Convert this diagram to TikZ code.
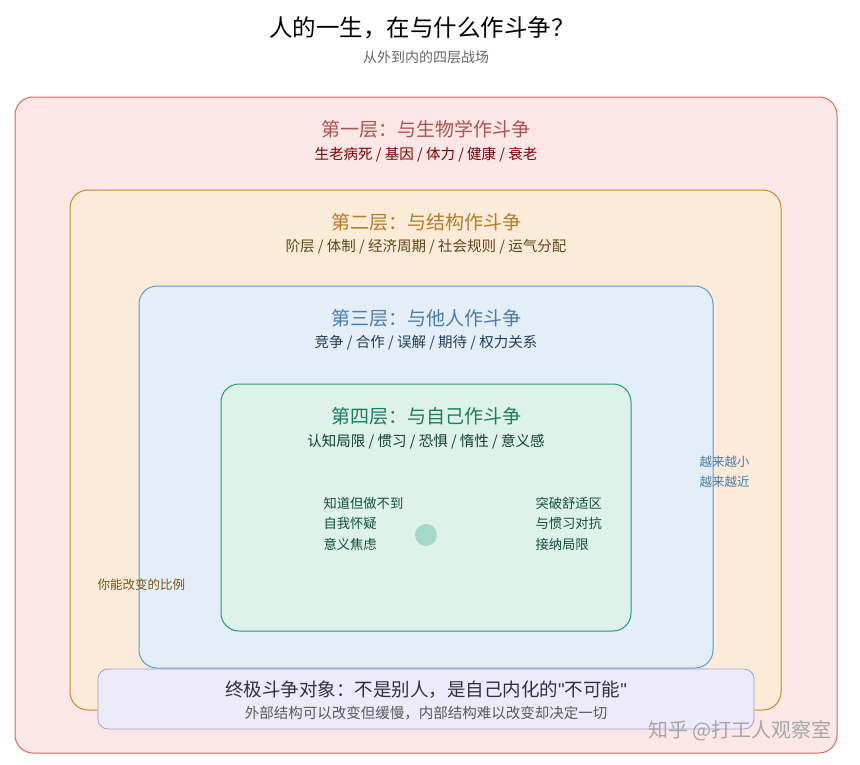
\documentclass[tikz,border=0pt]{standalone}
\usepackage{fontspec}
\setmainfont{Noto Sans CJK SC}
\newfontfamily\latq{Liberation Sans}
\begin{document}
\begin{tikzpicture}[x=1pt,y=-1pt,
 box/.style={rounded corners=18pt,line width=1pt},
 ttl/.style={font=\fontsize{19}{22}\selectfont},
 sub/.style={font=\fontsize{14.5}{17}\selectfont},
 sm/.style={font=\fontsize{13.3}{16}\selectfont,anchor=west}]
\definecolor{r1}{HTML}{FBE7E6}\definecolor{r1b}{HTML}{D9675F}
\definecolor{o1}{HTML}{FBEBD8}\definecolor{o1b}{HTML}{C98A2A}
\definecolor{b1}{HTML}{E3EEF9}\definecolor{b1b}{HTML}{5B9BD5}
\definecolor{g1}{HTML}{DFF2EA}\definecolor{g1b}{HTML}{1E9E78}
\definecolor{p1}{HTML}{EDEBFA}\definecolor{p1b}{HTML}{A39CD6}
\useasboundingbox[fill=white] (0,0) rectangle (860,764);
\node (t) at (422,28) {\fontsize{23.5}{27}\selectfont 人的一生，在与什么作斗争？};
\node[text=black!60] (st) at (426,57) {\fontsize{14}{17}\selectfont 从外到内的四层战场};
\draw[box,fill=r1,draw=r1b] (15,97) rectangle (837,753);
\node[ttl,text=r1b!80!black] (l1) at (426,129) {第一层：与生物学作斗争};
\node[sub,text=red!50!black] (l1s) at (426,155) {生老病死 / 基因 / 体力 / 健康 / 衰老};
\draw[box,fill=o1,draw=o1b] (70,190) rectangle (781,710);
\node[ttl,text=o1b!90!black] (l2) at (426,222) {第二层：与结构作斗争};
\node[sub,text=o1b!50!black] (l2s) at (426,247) {阶层 / 体制 / 经济周期 / 社会规则 / 运气分配};
\draw[box,fill=b1,draw=b1b] (139,286) rectangle (713,668);
\node[ttl,text=b1b!80!black] (l3) at (426,318) {第三层：与他人作斗争};
\node[sub,text=b1b!40!black] (l3s) at (426,343) {竞争 / 合作 / 误解 / 期待 / 权力关系};
\draw[box,fill=g1,draw=g1b] (221,384) rectangle (631,631);
\node[ttl,text=g1b!80!black] (l4) at (426,416) {第四层：与自己作斗争};
\node[sub,text=g1b!40!black] (l4s) at (426,442) {认知局限 / 惯习 / 恐惧 / 惰性 / 意义感};
\fill[g1b!40] (426,535) circle (11);
\node[sm,text=g1b!50!black] (a1) at (320,503) {知道但做不到};
\node[sm,text=g1b!50!black] (a2) at (320,523) {自我怀疑};
\node[sm,text=g1b!50!black] (a3) at (320,544) {意义焦虑};
\node[sm,text=g1b!50!black] (b1) at (532,503) {突破舒适区};
\node[sm,text=g1b!50!black] (b2) at (532,523) {与惯习对抗};
\node[sm,text=g1b!50!black] (b3) at (532,544) {接纳局限};
\node[sm,text=b1b!80!black,font=\fontsize{12.5}{15}\selectfont] (c1) at (696,462) {越来越小};
\node[sm,text=b1b!80!black,font=\fontsize{12.5}{15}\selectfont] (c2) at (696,482) {越来越近};
\node[sm,text=o1b!60!black,font=\fontsize{12.5}{15}\selectfont] (d1) at (94,585) {你能改变的比例};
\draw[rounded corners=10pt,line width=0.8pt,fill=p1,draw=p1b] (98,669) rectangle (754,729);
\node[ttl,font=\fontsize{18.5}{21}\selectfont,text=p1b!30!black] (u1) at (426,690) {终极斗争对象：不是别人，是自己内化的{\latq\char34}不可能{\latq\char34}};
\node[sub,font=\fontsize{14.5}{17}\selectfont,text=black!65] (u2) at (426,713) {外部结构可以改变但缓慢，内部结构难以改变却决定一切};
\node[text=black!35,font=\fontsize{20}{24}\selectfont] (w) at (740,731) {知乎 @打工人观察室};
\end{tikzpicture}
\end{document}
